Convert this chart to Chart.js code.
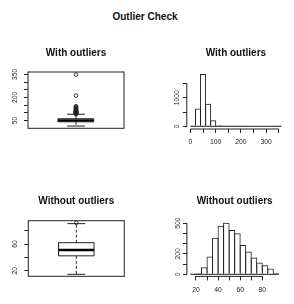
<!DOCTYPE html>
<html><head><meta charset="utf-8">
<script src="https://cdn.jsdelivr.net/npm/chart.js@4"></script>
<style>
html,body{margin:0;padding:0;background:#fff;}
body{width:294px;height:304px;position:relative;overflow:hidden;font-family:'Liberation Sans',Arial,Helvetica,sans-serif;}
canvas{position:absolute;}
#main{position:absolute;left:0;width:290px;top:10.5px;text-align:center;font-weight:bold;font-size:10px;line-height:12px;color:#111;}
</style></head><body>
<div id="main"></div>
<canvas id="tl" width="147" height="120" style="left:0;top:30px"></canvas>
<canvas id="tr" width="147" height="120" style="left:147px;top:30px"></canvas>
<canvas id="bl" width="147" height="134" style="left:0;top:170px"></canvas>
<canvas id="br" width="147" height="134" style="left:147px;top:170px"></canvas>
<script>
// ---------- data ----------
const mainTitle = 'Outlier Check';
const panelTitles = ['With outliers', 'With outliers', 'Without outliers', 'Without outliers'];

// boxplot stats: [lower whisker, Q1, median, Q3, upper whisker]
const boxAllStats = [14.6, 42, 51, 62, 91];
const boxAllOutliers = [93, 94, 95, 96, 97, 98, 99, 100, 101, 102, 103, 104, 105, 106, 107, 108, 110, 111, 113, 115, 117, 119, 121, 124, 127, 130, 134, 139, 143, 212, 348];
const boxNoStats = [14.6, 42.3, 51, 62, 90.6];
const boxNoOutliers = [92];
const boxAllYTicks = [50, 100, 150, 200, 250, 300, 350];
const boxAllYLabels = [50, 200, 350];
const boxNoYTicks = [20, 40, 60, 80];
const boxNoYLabels = [20, 60];

// histograms
const histAllBreaks = [0, 20, 40, 60, 80, 100, 120, 140, 160, 180, 200, 220, 240, 260, 280, 300, 320, 340, 360];
const histAllCounts = [3, 620, 1825, 789, 209, 50, 12, 3, 1, 0, 1, 0, 0, 0, 0, 0, 0, 1];
const histAllXTicks = [0, 50, 100, 150, 200, 250, 300, 350];
const histAllXLabels = [0, 100, 200, 300];
const histAllYTicks = [0, 500, 1000, 1500];
const histAllYLabels = [0, 1000];

const histNoBreaks = [15, 20, 25, 30, 35, 40, 45, 50, 55, 60, 65, 70, 75, 80, 85, 90, 95];
const histNoCounts = [3, 13, 68, 174, 358, 474, 503, 432, 400, 287, 223, 165, 116, 88, 57, 12];
const histNoXTicks = [20, 30, 40, 50, 60, 70, 80];
const histNoXLabels = [20, 40, 60, 80];
const histNoYTicks = [0, 100, 200, 300, 400, 500];
const histNoYLabels = [0, 200, 500];

// ---------- styling ----------
const FONT = "'Liberation Sans', Arial, Helvetica, sans-serif";
const INK = '#222';
const TICKFONT = {family: FONT, size: 6.8};
const BOX_AT = 1, BOX_WEX = 0.4, STAPLE = 0.2;

document.getElementById('main').textContent = mainTitle;

const rFrame = {
  id: 'rFrame',
  afterDatasetsDraw(chart, args, o) {
    const ctx = chart.ctx, a = chart.chartArea;
    ctx.save();
    ctx.strokeStyle = INK; ctx.lineWidth = 1;
    if (o.frame) ctx.strokeRect(a.left, a.top, a.right - a.left, a.bottom - a.top);
    if (o.axes) {
      const xs = chart.scales.x, ys = chart.scales.y;
      ctx.beginPath();
      ctx.moveTo(xs.getPixelForValue(xs.ticks[0].value), a.bottom);
      ctx.lineTo(xs.getPixelForValue(xs.ticks[xs.ticks.length - 1].value), a.bottom);
      ctx.moveTo(a.left, ys.getPixelForValue(ys.ticks[0].value));
      ctx.lineTo(a.left, ys.getPixelForValue(ys.ticks[ys.ticks.length - 1].value));
      ctx.stroke();
    }
    ctx.restore();
  }
};

function titleOpts(text, pt, pb) {
  return {display: true, text, fullSize: false, color: '#111',
    font: {family: FONT, size: 10, weight: 'bold', lineHeight: 1.2},
    padding: {top: pt, bottom: pb}};
}

function yAxis(min, max, ticks, shown, width, pad) {
  return {
    type: 'linear', position: 'left', min, max,
    afterBuildTicks: s => { s.ticks = ticks.map(v => ({value: v})); },
    afterFit: s => { s.width = width; },
    border: {display: false},
    grid: {drawOnChartArea: false, drawTicks: true, tickLength: 4, color: INK, lineWidth: 1},
    ticks: {autoSkip: false, minRotation: 90, maxRotation: 90, crossAlign: 'center', padding: pad,
      color: '#222', font: TICKFONT, callback: v => shown.includes(v) ? String(v) : ''}
  };
}

function xAxis(min, max, ticks, shown, height, pad) {
  return {
    type: 'linear', position: 'bottom', min, max, offset: false,
    afterBuildTicks: s => { s.ticks = ticks.map(v => ({value: v})); },
    afterFit: s => { s.height = height; },
    border: {display: false},
    grid: {drawOnChartArea: false, drawTicks: true, tickLength: 4, color: INK, lineWidth: 1, offset: false},
    ticks: {autoSkip: false, minRotation: 0, maxRotation: 0, padding: pad,
      color: '#222', font: TICKFONT, callback: v => shown.includes(v) ? String(v) : ''}
  };
}

function boxDatasets(stats, outliers) {
  const [lo, q1, med, q3, hi] = stats;
  const c = BOX_AT, h = BOX_WEX / 2, s = STAPLE / 2;
  const seg = (pts, extra) => Object.assign({
    type: 'scatter', showLine: true, data: pts.map(([x, y]) => ({x, y})),
    borderColor: INK, borderWidth: 1, pointRadius: 0, fill: false, borderJoinStyle: 'miter'
  }, extra || {});
  return [
    seg([[c - h, q1], [c + h, q1], [c + h, q3], [c - h, q3], [c - h, q1]]),
    seg([[c, q3], [c, hi]], {borderDash: [3, 2]}),
    seg([[c, q1], [c, lo]], {borderDash: [3, 2]}),
    seg([[c - s, hi], [c + s, hi]]),
    seg([[c - s, lo], [c + s, lo]]),
    seg([[c - h, med], [c + h, med]], {borderWidth: 2.5, borderColor: '#000'}),
    {type: 'scatter', showLine: false, data: outliers.map(v => ({x: c, y: v})),
      pointRadius: 1.8, pointBorderWidth: 0.9, pointBackgroundColor: 'rgba(0,0,0,0)', pointBorderColor: INK}
  ];
}

function boxChart(id, title, tpad, stats, outliers, y, pad) {
  return new Chart(document.getElementById(id), {
    type: 'scatter',
    data: {datasets: boxDatasets(stats, outliers)},
    options: {
      responsive: false, animation: false, devicePixelRatio: 1, events: [],
      layout: {padding: pad},
      plugins: {legend: {display: false}, tooltip: {enabled: false},
        title: titleOpts(title, tpad[0], tpad[1]), rFrame: {frame: true}},
      scales: {
        x: {type: 'linear', display: false, min: 0.46, max: 1.54},
        y: yAxis(y.min, y.max, y.ticks, y.labels, y.width, y.pad)
      }
    },
    plugins: [rFrame]
  });
}

// barPct widens each bar by ~1px so neighbouring outlines share one line (R-style rects)
function histChart(id, title, tpad, breaks, counts, barPct, x, y, pad) {
  const bars = counts.map((c, i) => ({x: (breaks[i] + breaks[i + 1]) / 2, y: c}));
  const last = breaks.length - 1;
  return new Chart(document.getElementById(id), {
    type: 'bar',
    data: {datasets: [
      {type: 'bar', data: bars, backgroundColor: 'rgba(0,0,0,0)', borderColor: INK,
        borderWidth: {left: 1, top: 1, right: 1, bottom: 0}, borderSkipped: false,
        barPercentage: barPct, categoryPercentage: 1},
      {type: 'line', data: [{x: breaks[0], y: 0}, {x: breaks[last], y: 0}],
        borderColor: INK, borderWidth: 1, pointRadius: 0, fill: false, tension: 0}
    ]},
    options: {
      responsive: false, animation: false, devicePixelRatio: 1, events: [],
      layout: {padding: pad},
      plugins: {legend: {display: false}, tooltip: {enabled: false},
        title: titleOpts(title, tpad[0], tpad[1]), rFrame: {axes: true}},
      scales: {
        x: xAxis(x.min, x.max, x.ticks, x.labels, x.height, x.pad),
        y: yAxis(y.min, y.max, y.ticks, y.labels, y.width, y.pad)
      }
    },
    plugins: [rFrame]
  });
}

boxChart('tl', panelTitles[0], [17.3, 12.7], boxAllStats, boxAllOutliers,
  {min: 0, max: 365, ticks: boxAllYTicks, labels: boxAllYLabels, width: 28, pad: 3.4},
  {left: 0, right: 23, top: 0, bottom: 21.7});

histChart('tr', panelTitles[1], [17.3, 12.7], histAllBreaks, histAllCounts, 1.198,
  {min: -14.4, max: 374.4, ticks: histAllXTicks, labels: histAllXLabels, height: 21, pad: 5.5},
  {min: -94, max: 1898, ticks: histAllYTicks, labels: histAllYLabels, width: 39.8, pad: -2.3},
  {left: 0, right: 9, top: 0, bottom: 0});

boxChart('bl', panelTitles[2], [25.5, 13.2], boxNoStats, boxNoOutliers,
  {min: 11.6, max: 95, ticks: boxNoYTicks, labels: boxNoYLabels, width: 28.3, pad: 5.6},
  {left: 0, right: 22.7, top: 0, bottom: 27.7});

histChart('br', panelTitles[3], [25.3, 13.4], histNoBreaks, histNoCounts, 1.181,
  {min: 11.8, max: 98.2, ticks: histNoXTicks, labels: histNoXLabels, height: 27.6, pad: 6},
  {min: -20.1, max: 523.1, ticks: histNoYTicks, labels: histNoYLabels, width: 39.9, pad: -1.3},
  {left: 0, right: 11.6, top: 0, bottom: 0});
</script>
</body></html>
